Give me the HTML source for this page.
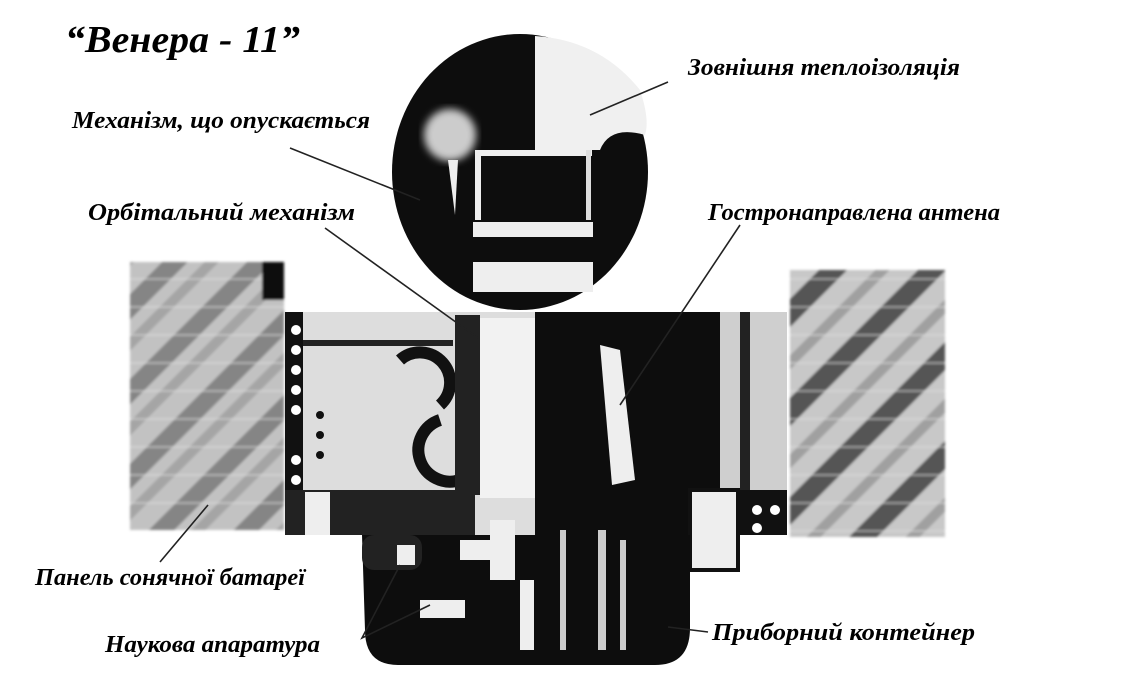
<!DOCTYPE html>
<html><head><meta charset="utf-8"><style>
body{margin:0;background:#fff;}
svg{display:block}
text{font-family:"Liberation Serif",serif;font-style:italic;font-weight:bold;fill:#000}
</style></head><body>
<svg width="1122" height="683" viewBox="0 0 1122 683">
<defs>
<pattern id="st" width="60" height="60" patternUnits="userSpaceOnUse" patternTransform="rotate(45)">
<rect width="60" height="60" fill="#c2c2c2"/>
<rect x="0" width="18" height="60" fill="#858585"/>
<rect x="30" width="10" height="60" fill="#a5a5a5"/>
</pattern>
<pattern id="st2" width="70" height="70" patternUnits="userSpaceOnUse" patternTransform="rotate(45)">
<rect width="70" height="70" fill="#c8c8c8"/>
<rect x="0" width="20" height="70" fill="#555"/>
<rect x="40" width="10" height="70" fill="#a0a0a0"/>
</pattern>
<pattern id="grid" width="155" height="28" patternUnits="userSpaceOnUse">
<rect y="26" width="155" height="2" fill="#ddd" opacity=".5"/>
</pattern>
<filter id="bl"><feGaussianBlur stdDeviation="4"/></filter>
<filter id="bl2"><feGaussianBlur stdDeviation="1.2"/></filter>
</defs>
<!-- solar panels -->
<g filter="url(#bl2)">
<rect x="130" y="262" width="154" height="268" fill="url(#st)"/>
<rect x="130" y="262" width="154" height="268" fill="url(#grid)"/>
<rect x="262" y="262" width="22" height="38" fill="#111"/>
<rect x="790" y="270" width="155" height="267" fill="url(#st2)"/>
<rect x="790" y="270" width="155" height="267" fill="url(#grid)"/>
</g>
<!-- central body -->
<rect x="285" y="312" width="502" height="223" fill="#ddd"/>
<rect x="285" y="312" width="18" height="223" fill="#111"/>
<g fill="#fff"><circle cx="296" cy="330" r="5"/><circle cx="296" cy="350" r="5"/><circle cx="296" cy="370" r="5"/><circle cx="296" cy="390" r="5"/><circle cx="296" cy="410" r="5"/><circle cx="296" cy="460" r="5"/><circle cx="296" cy="480" r="5"/><circle cx="296" cy="505" r="5"/><circle cx="296" cy="525" r="5"/></g>
<g fill="#111"><circle cx="320" cy="415" r="4"/><circle cx="320" cy="435" r="4"/><circle cx="320" cy="455" r="4"/></g>
<rect x="303" y="340" width="150" height="6" fill="#222"/>
<rect x="285" y="490" width="190" height="45" fill="#222"/>
<rect x="305" y="492" width="25" height="43" fill="#eee"/>
<path d="M400 360 a30 30 0 1 1 40 45" fill="none" stroke="#111" stroke-width="12"/>
<path d="M440 420 a30 30 0 1 0 20 60" fill="none" stroke="#111" stroke-width="12"/>
<rect x="455" y="315" width="25" height="180" fill="#222"/>
<rect x="480" y="318" width="55" height="180" fill="#f2f2f2"/>
<rect x="535" y="312" width="195" height="223" fill="#0d0d0d"/>
<path d="M600 345 L620 350 L635 480 L612 485 Z" fill="#eee"/>
<rect x="720" y="312" width="67" height="223" fill="#cfcfcf"/>
<rect x="740" y="312" width="10" height="223" fill="#222"/>
<rect x="740" y="490" width="47" height="45" fill="#111"/>
<g fill="#fff"><circle cx="757" cy="510" r="5"/><circle cx="775" cy="510" r="5"/><circle cx="757" cy="528" r="5"/></g>
<rect x="690" y="490" width="48" height="80" fill="#eee" stroke="#111" stroke-width="4"/>
<!-- bottom container -->
<path d="M362 535 H690 V628 Q690 665 655 665 H398 Q365 665 365 630 Z" fill="#0d0d0d"/>
<rect x="362" y="535" width="60" height="35" rx="12" fill="#222"/>
<g fill="#eee"><rect x="397" y="545" width="18" height="20"/><rect x="420" y="600" width="45" height="18"/><rect x="460" y="540" width="30" height="20"/><rect x="520" y="580" width="14" height="70"/><rect x="490" y="520" width="25" height="60"/></g>
<g fill="#ccc"><rect x="560" y="530" width="6" height="120"/><rect x="598" y="530" width="8" height="120"/><rect x="620" y="540" width="6" height="110"/></g>
<!-- sphere -->
<ellipse cx="520" cy="172" rx="128" ry="138" fill="#0d0d0d"/>
<path d="M535 36 Q600 40 640 90 Q650 120 645 135 Q610 125 600 150 L535 150 Z" fill="#f0f0f0"/>
<circle cx="450" cy="135" r="26" fill="#ccc" filter="url(#bl)"/>
<path d="M448 160 L458 160 L455 215 Z" fill="#eee"/>
<rect x="475" y="150" width="117" height="6" fill="#eee"/>
<rect x="475" y="150" width="6" height="70" fill="#eee"/>
<rect x="586" y="150" width="5" height="70" fill="#ddd"/>
<rect x="473" y="222" width="120" height="15" fill="#eee"/>
<rect x="473" y="262" width="120" height="30" fill="#eee"/>
<!-- leaders -->
<g stroke="#222" stroke-width="1.6" fill="none">
<line x1="290" y1="148" x2="420" y2="200"/>
<line x1="668" y1="82" x2="590" y2="115"/>
<line x1="325" y1="228" x2="478" y2="338"/>
<line x1="740" y1="225" x2="620" y2="405"/>
<line x1="160" y1="562" x2="208" y2="505"/>
<polyline points="400,565 362,638 430,605"/>
<line x1="708" y1="632" x2="668" y2="627"/>
</g>
<text x="65" y="52" font-size="38" textLength="235" lengthAdjust="spacingAndGlyphs">“Венера - 11”</text>
<text x="72" y="128" font-size="24" textLength="298" lengthAdjust="spacingAndGlyphs">Механізм, що опускається</text>
<text x="688" y="75" font-size="24" textLength="272" lengthAdjust="spacingAndGlyphs">Зовнішня теплоізоляція</text>
<text x="88" y="220" font-size="24" textLength="267" lengthAdjust="spacingAndGlyphs">Орбітальний механізм</text>
<text x="708" y="220" font-size="24" textLength="292" lengthAdjust="spacingAndGlyphs">Гостронаправлена антена</text>
<text x="35" y="585" font-size="24" textLength="270" lengthAdjust="spacingAndGlyphs">Панель сонячної батареї</text>
<text x="105" y="652" font-size="24" textLength="215" lengthAdjust="spacingAndGlyphs">Наукова апаратура</text>
<text x="712" y="640" font-size="24" textLength="263" lengthAdjust="spacingAndGlyphs">Приборний контейнер</text>
</svg>
</body></html>
